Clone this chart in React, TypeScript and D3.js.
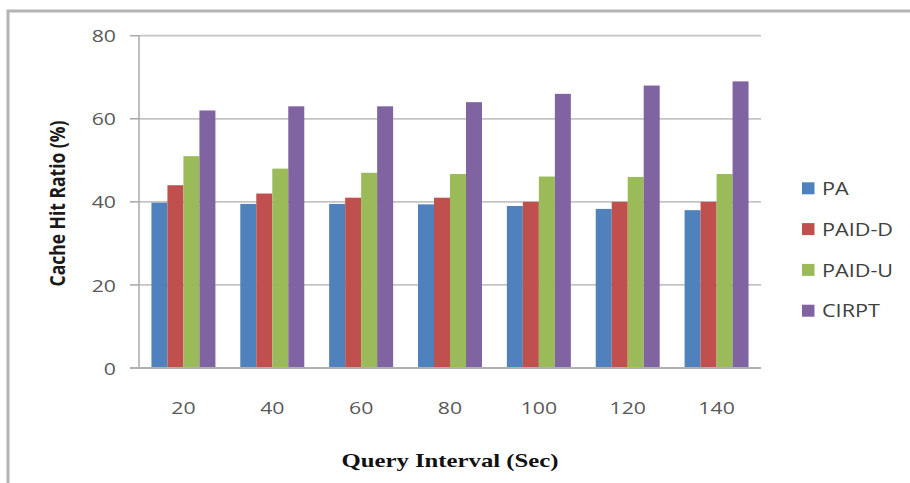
import React from "react";
import * as d3 from "d3";

const categories = ["20", "40", "60", "80", "100", "120", "140"];
const seriesNames = ["PA", "PAID-D", "PAID-U", "CIRPT"];
const paValues = [39.8, 39.5, 39.5, 39.4, 39.0, 38.3, 38.0];
const paidDValues = [44, 42, 41, 41, 40, 40, 40];
const paidUValues = [51, 48, 47, 46.7, 46.1, 46, 46.7];
const cirptValues = [62, 63, 63, 64, 66, 68, 69];
const yTicks = [0, 20, 40, 60, 80];
const colors = ["#4F81BD", "#C0504D", "#9BBB59", "#8064A2"];

const W = 910;
const H = 483;
const left = 139;
const right = 761;
const top = 35.7;
const bottom = 368;
// horizontal stretch applied to text glyphs
const SX = 1.25;

export default function App() {
  const series = [paValues, paidDValues, paidUValues, cirptValues];
  const x = d3
    .scaleBand<string>()
    .domain(categories)
    .range([left, right])
    .paddingInner(0.28)
    .paddingOuter(0.14);
  const xs = d3
    .scaleBand<string>()
    .domain(seriesNames)
    .range([0, x.bandwidth()]);
  const y = d3.scaleLinear().domain([0, 80]).range([bottom, top]);

  const sans = "'Open Sans', 'Liberation Sans', sans-serif";

  return (
    <svg
      width={W}
      height={H}
      style={{ position: "absolute", left: 0, top: 0, display: "block" }}
    >
      <rect x={0} y={0} width={W} height={H} fill="#fff" />
      <rect
        x={8}
        y={11}
        width={W + 20}
        height={H + 20}
        fill="none"
        stroke="#b4b4b4"
        strokeWidth={3}
      />
      {/* gridlines */}
      {yTicks.slice(1).map((t) => (
        <line
          key={"g" + t}
          x1={left}
          x2={right}
          y1={y(t)}
          y2={y(t)}
          stroke="#c4c4c4"
          strokeWidth={1.8}
        />
      ))}
      {/* tick marks */}
      {yTicks.map((t) => (
        <line
          key={"t" + t}
          x1={130}
          x2={left}
          y1={y(t)}
          y2={y(t)}
          stroke="#a8a8a8"
          strokeWidth={1.5}
        />
      ))}
      <line x1={left} x2={left} y1={top} y2={bottom} stroke="#a8a8a8" strokeWidth={1.5} />
      {/* bars */}
      {categories.map((c, i) => (
        <g key={c}>
          {series.map((vals, s) => (
            <rect
              key={s}
              x={(x(c) ?? 0) + (xs(seriesNames[s]) ?? 0)}
              y={y(vals[i])}
              width={xs.bandwidth()}
              height={bottom - y(vals[i])}
              fill={colors[s]}
            />
          ))}
        </g>
      ))}
      <line x1={130} x2={right} y1={bottom} y2={bottom} stroke="#b0b0b0" strokeWidth={1.8} />
      {/* y tick labels */}
      {yTicks.map((t) => (
        <text
          key={"yl" + t}
          transform={`translate(116,${y(t)}) scale(${SX},1)`}
          textAnchor="end"
          dominantBaseline="central"
          fontFamily={sans}
          fontSize={17}
          fill="#595959"
        >
          {t}
        </text>
      ))}
      {/* x tick labels */}
      {categories.map((c) => (
        <text
          key={"xl" + c}
          transform={`translate(${(x(c) ?? 0) + x.bandwidth() / 2},407) scale(${SX},1)`}
          textAnchor="middle"
          dominantBaseline="central"
          fontFamily={sans}
          fontSize={17}
          fill="#595959"
        >
          {c}
        </text>
      ))}
      {/* axis titles */}
      <text
        transform={`translate(64.5,203.5) rotate(-90) scale(1,${SX})`}
        textAnchor="middle"
        fontFamily={sans}
        fontWeight="bold"
        fontSize={17.5}
        fill="#1a1a1a"
      >
        Cache Hit Ratio (%)
      </text>
      <text
        transform={`translate(450,467) scale(${SX},1)`}
        textAnchor="middle"
        fontFamily="'Liberation Serif', 'Times New Roman', serif"
        fontWeight="bold"
        fontSize={19.8}
        fill="#111"
      >
        Query Interval (Sec)
      </text>
      {/* legend */}
      {seriesNames.map((n, i) => {
        const cy = 188.3 + i * 40.8;
        return (
          <g key={n}>
            <rect x={802} y={cy - 6} width={12.5} height={12} fill={colors[i]} />
            <text
              transform={`translate(822,${cy}) scale(${SX},1)`}
              dominantBaseline="central"
              fontFamily={sans}
              fontSize={17.3}
              fill="#404040"
            >
              {n}
            </text>
          </g>
        );
      })}
    </svg>
  );
}
